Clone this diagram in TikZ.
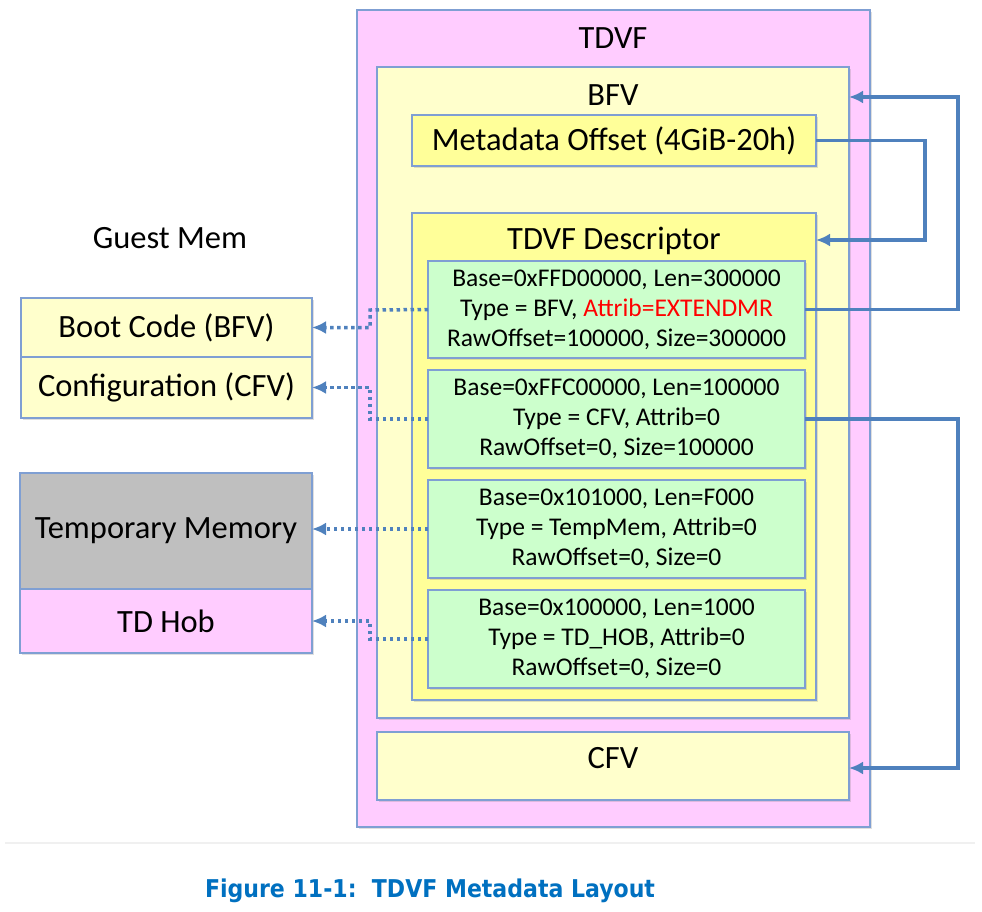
\documentclass[tikz,border=0pt]{standalone}
\usepackage{fontspec}
\setmainfont{Carlito}
\newfontfamily\capfont{DejaVu Sans Condensed}
\usetikzlibrary{arrows.meta, shadows, calc}

\definecolor{pinkbox}{HTML}{FFCCFF}
\definecolor{paleyellow}{HTML}{FFFFCC}
\definecolor{deepyellow}{HTML}{FFFF99}
\definecolor{greenbox}{HTML}{CCFFCC}
\definecolor{graybox}{HTML}{BFBFBF}
\definecolor{edgeblue}{HTML}{7F9FD3}
\definecolor{linkblue}{HTML}{4F81BD}
\definecolor{capblue}{HTML}{0070C0}

\tikzset{
  membox/.style={draw=edgeblue, line width=1.4pt, inner sep=0pt, outer sep=0pt,
    anchor=north west, align=center,
    drop shadow={shadow xshift=2pt, shadow yshift=-2pt, opacity=0.25}},
  title/.style={font=\fontsize{32.5}{38}\selectfont},
  entrytext/.style={font=\fontsize{25.5}{30}\selectfont},
  link/.style={draw=linkblue, line width=3.5pt, -{Latex[length=14pt,width=13pt]}},
  dotlink/.style={link, dash pattern=on 3.5pt off 3.5pt}
}

\begin{document}
\begin{tikzpicture}[x=1pt,y=-1pt]
        \useasboundingbox (0,0) rectangle (982,911);

        % firmware volume
        \node[membox, fill=pinkbox, minimum width=513, minimum height=817] (tdvf) at (357,10) {};
        \node[membox, fill=paleyellow, minimum width=472, minimum height=651] (bfv) at (377,67) {};
        \node[membox, fill=paleyellow, minimum width=472, minimum height=68] (cfv) at (377,732) {};
        \node[membox, fill=deepyellow, minimum width=404, minimum height=51, title] (meta) at (412,115) {Metadata Offset (4GiB-20h)};
        \node[membox, fill=deepyellow, minimum width=404, minimum height=487] (desc) at (412,213) {};

        \node[title] (tdvflabel) at (613,38) {TDVF};
        \node[title] (bfvlabel) at (613,95) {BFV};
        \node[title] (desclabel) at (614,241) {TDVF Descriptor};
        \node[title] (cfvlabel) at (613,758) {CFV};

        % descriptor entries
        \node[membox, fill=greenbox, minimum width=377, minimum height=97, entrytext] (e1) at (428,261)
          {Base=0xFFD00000, Len=300000\\Type = BFV, \textcolor{red}{Attrib=EXTENDMR}\\RawOffset=100000, Size=300000};
        \node[membox, fill=greenbox, minimum width=377, minimum height=98, entrytext] (e2) at (428,370)
          {Base=0xFFC00000, Len=100000\\Type = CFV, Attrib=0\\RawOffset=0, Size=100000};
        \node[membox, fill=greenbox, minimum width=377, minimum height=98, entrytext] (e3) at (428,480)
          {Base=0x101000, Len=F000\\Type = TempMem, Attrib=0\\RawOffset=0, Size=0};
        \node[membox, fill=greenbox, minimum width=377, minimum height=98, entrytext] (e4) at (428,590)
          {Base=0x100000, Len=1000\\Type = TD\_HOB, Attrib=0\\RawOffset=0, Size=0};

        % guest memory
        \node[title] (guestlabel) at (170,238) {Guest Mem};
        \node[membox, fill=paleyellow, minimum width=291, minimum height=59, title] (boot) at (21,298) {Boot Code (BFV)};
        \node[membox, fill=paleyellow, minimum width=291, minimum height=61, title] (conf) at (21,357) {Configuration (CFV)};
        \node[membox, fill=graybox, minimum width=292, minimum height=116, title] (temp) at (20,473) {Temporary Memory};
        \node[membox, fill=pinkbox, minimum width=292, minimum height=64, title] (hob) at (20,589) {TD Hob};

        % solid links
        \coordinate (r1) at (958,97);
        \coordinate (r2) at (925,240);
        \coordinate (r3) at (958,768);
        \draw[link] (e1.east) -| (r1) -- (bfv.east |- r1);
        \draw[link] (meta.east) -| (r2) -- (desc.east |- r2);
        \draw[link] (e2.east) -| (r3) -- (cfv.east |- r3);

        % dotted links
        \coordinate (l1) at (370,310);
        \coordinate (l2) at (370,419);
        \coordinate (l4) at (370,639);
        \draw[dotlink] (e1.west) -- (l1) |- (boot.east);
        \draw[dotlink] (e2.west) -- (l2) |- (conf.east);
        \draw[dotlink] (e3.west) -- (temp.east |- e3.west);
        \draw[dotlink] (e4.west) -- (l4) |- (hob.east);

        % caption
        \draw[draw=black!6, line width=2.5pt] (5,843) -- (975,843);
        \node[font=\capfont\bfseries\fontsize{24.5}{29}\selectfont, text=capblue] (caption) at (430,891)
          {Figure 11-1:\ \ TDVF Metadata Layout};
\end{tikzpicture}
\end{document}
